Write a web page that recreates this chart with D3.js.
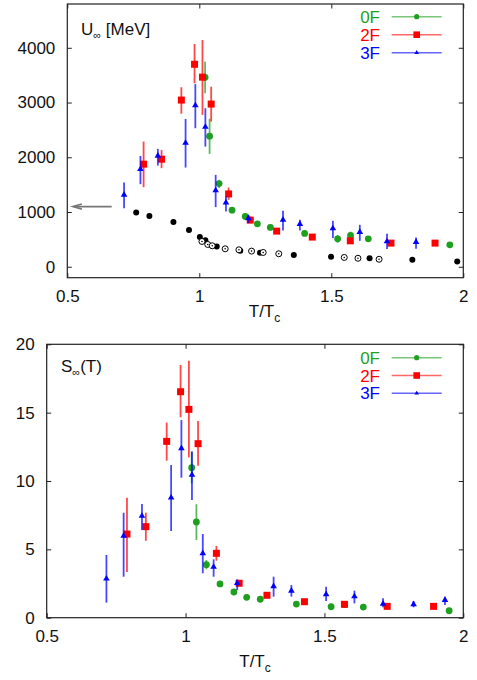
<!DOCTYPE html>
<html><head><meta charset="utf-8">
<script src="https://cdn.jsdelivr.net/npm/d3@7/dist/d3.min.js"></script>
<style>
html,body{margin:0;padding:0;background:#fff;}
svg text{font-family:"Liberation Sans",Arial,Helvetica,sans-serif;}
</style>
</head><body>
<svg id="c" width="477" height="680"></svg>
<script>
// ---------- DATA ----------
const seriesNames = ["0F", "2F", "3F"];
const xTicks = [0.5, 1, 1.5, 2];
const uTicks = [0, 1000, 2000, 3000, 4000];
const sTicks = [0, 5, 10, 15, 20];

// 0F
const T0F = [1.022, 1.039, 1.075, 1.124, 1.174, 1.220, 1.269, 1.399, 1.524, 1.573, 1.640, 1.949];
const U0F = [3461, 2385, 1520, 1034, 918, 785, 718, 608, 511, 572, 511, 401];
const U0F_lo = [3170, 2062, 1440, 1034, 918, 785, 718, 608, 440, 510, 511, 401];
const U0F_hi = [3746, 2705, 1590, 1034, 918, 785, 718, 608, 580, 640, 511, 401];
const S0F = [10.97, 7.0, 3.88, 2.47, 1.88, 1.49, 1.35, 1.0, 0.8, 0.95, 0.78, 0.51];
const S0F_lo = [9.83, 5.68, 3.54, 2.47, 1.88, 1.49, 1.35, 1.0, 0.8, 0.95, 0.78, 0.51];
const S0F_hi = [12.15, 8.3, 4.22, 2.47, 1.88, 1.49, 1.35, 1.0, 0.8, 0.95, 0.78, 0.51];

// 2F
const T2F = [0.789, 0.857, 0.932, 0.982, 1.012, 1.045, 1.111, 1.193, 1.293, 1.428, 1.572, 1.726, 1.893];
const U2F = [1874, 1965, 3045, 3699, 3464, 2972, 1330, 852, 651, 542, 474, 432, 432];
const U2F_lo = [1454, 1801, 2795, 3352, 2774, 2651, 1223, 800, 651, 542, 474, 432, 432];
const U2F_hi = [2287, 2135, 3279, 4069, 4142, 3290, 1447, 920, 651, 542, 474, 432, 432];
const S2F = [6.12, 6.66, 12.9, 16.53, 15.24, 12.73, 4.71, 2.52, 1.64, 1.17, 0.98, 0.83, 0.83];
const S2F_lo = [3.34, 5.63, 11.49, 14.66, 11.73, 11.12, 4.17, 2.52, 1.64, 1.17, 0.98, 0.83, 0.83];
const S2F_hi = [8.78, 7.68, 14.27, 18.49, 18.8, 14.39, 5.25, 2.52, 1.64, 1.17, 0.98, 0.83, 0.83];

// 3F
const T3F = [0.715, 0.777, 0.843, 0.948, 0.985, 1.023, 1.062, 1.101, 1.186, 1.317, 1.381, 1.506, 1.608, 1.711, 1.821, 1.934];
const U3F = [1314, 1783, 2026, 2262, 2946, 2555, 1393, 1173, 885, 858, 779, 699, 633, 462, 451, null];
const U3F_lo = [1071, 1509, 1849, 1812, 2531, 2195, 1089, 1009, 797, 662, 662, 523, 474, 323, 328, null];
const U3F_hi = [1538, 2025, 2153, 2700, 3337, 2896, 1679, 1283, 949, 1022, 858, 839, 766, 602, 535, null];
const S3F = [2.85, 5.98, 7.44, 8.78, 12.39, 10.44, 4.71, 3.71, 2.52, 2.3, 1.97, 1.71, 1.56, 1.02, 0.98, 1.29];
const S3F_lo = [1.10, 3.0, 6.42, 6.34, 10.24, 8.61, 3.25, 3.0, 2.03, 1.54, 1.54, 1.22, 1.05, 0.76, 0.76, 0.93];
const S3F_hi = [4.59, 7.68, 8.32, 11.17, 14.46, 12.15, 6.12, 4.27, 2.8, 3.0, 2.39, 2.27, 1.98, 1.42, 1.22, 1.54];

// reference (black) points in upper panel
const Tfilled = [0.761, 0.811, 0.902, 0.961, 1.002, 1.023, 1.066, 1.155, 1.230, 1.358, 1.499, 1.645, 1.807, 1.977];
const Ufilled = [991, 925, 816, 672, 542, 482, 368, 292, 255, 213, 182, 155, 128, 97];
const Topen = [1.010, 1.032, 1.049, 1.098, 1.150, 1.198, 1.242, 1.301, 1.549, 1.601, 1.681];
const Uopen = [462, 407, 383, 328, 310, 286, 261, 237, 170, 155, 137];

// arrow annotation (T from, T to, U)
const arrowT = [0.668, 0.521];
const arrowU = 1100;

// ---------- DRAW ----------
const colors = {"0F": "#1f9f1f", "2F": "#ff0000", "3F": "#0000ff"};
const svg = d3.select("#c");
const FONT = 17;

function triPath(s) {
  const h = s * 0.85;
  return `M0,${-h*2/3}L${s/2},${h/3}L${-s/2},${h/3}Z`;
}
function marker(g, name, x, y, big) {
  const c = colors[name];
  if (name === "0F") {
    g.append("circle").attr("cx", x).attr("cy", y).attr("r", big ? 3.4 : 2.6).attr("fill", c);
  } else if (name === "2F") {
    const s = big ? 7 : 6.6;
    g.append("rect").attr("x", x - s/2).attr("y", y - s/2).attr("width", s).attr("height", s).attr("fill", c);
  } else {
    g.append("path").attr("d", triPath(big ? 6.6 : 4.6)).attr("transform", `translate(${x},${y})`).attr("fill", c);
  }
}

function panel(opt) {
  const {left, right, top, bottom, yDomain, yTicks, series, title, legendY, extra} = opt;
  const x = d3.scaleLinear().domain([0.5, 2]).range([left, right]);
  const y = d3.scaleLinear().domain(yDomain).range([bottom, top]);
  const g = svg.append("g");

  // axes
  const ax = (a, tr, labels) => {
    const gg = g.append("g").attr("transform", tr).call(a);
    gg.select(".domain").remove();
    gg.selectAll(".tick line").attr("stroke", "#222").attr("stroke-width", 1);
    gg.selectAll("text").attr("font-size", FONT).attr("fill", "#111")
      .attr("font-family", '"Liberation Sans",Arial,Helvetica,sans-serif');
    if (!labels) gg.selectAll("text").remove();
    return gg;
  };
  ax(d3.axisBottom(x).tickValues(xTicks).tickFormat(d3.format("")).tickSize(-4.5).tickPadding(12), `translate(0,${bottom})`, true);
  ax(d3.axisTop(x).tickValues(xTicks).tickSize(-4.5), `translate(0,${top})`, false);
  ax(d3.axisLeft(y).tickValues(yTicks).tickFormat(d3.format("")).tickSize(-4.5).tickPadding(12), `translate(${left},0)`, true);
  ax(d3.axisRight(y).tickValues(yTicks).tickSize(-4.5), `translate(${right},0)`, false);

  if (extra) extra(g, x, y);

  // series
  series.forEach(s => {
    const eg = g.append("g");
    s.T.forEach((t, i) => {
      if (s.v[i] == null) return;
      if (s.hi[i] - s.lo[i] > 0) {
        eg.append("line").attr("x1", x(t)).attr("x2", x(t)).attr("y1", y(s.lo[i])).attr("y2", y(s.hi[i]))
          .attr("stroke", colors[s.name]).attr("stroke-width", 1.8).attr("stroke-opacity", 0.72);
      }
    });
    s.T.forEach((t, i) => {
      if (s.v[i] == null) return;
      marker(eg, s.name, x(t), y(s.v[i]), true);
    });
  });

  // frame
  g.append("rect").attr("x", left).attr("y", top).attr("width", right - left).attr("height", bottom - top)
    .attr("fill", "none").attr("stroke", "#222").attr("stroke-width", 1.2);

  // legend
  seriesNames.forEach((n, i) => {
    const ly = legendY[i];
    g.append("text").attr("x", 380).attr("y", ly).attr("dy", "0.36em").attr("text-anchor", "end")
      .attr("font-size", FONT).attr("fill", colors[n]).text(n);
    g.append("line").attr("x1", 391.7).attr("x2", 441.7).attr("y1", ly).attr("y2", ly)
      .attr("stroke", colors[n]).attr("stroke-width", 1.6).attr("stroke-opacity", 0.6);
    marker(g, n, 416.7, ly, false);
  });

  // title
  const tt = g.append("text").attr("x", title.x).attr("y", title.y).attr("font-size", FONT).attr("fill", "#111");
  tt.append("tspan").text(title.main);
  tt.append("tspan").attr("font-size", 11).attr("dy", 4).text("∞");
  tt.append("tspan").attr("dy", -4).text(title.rest);

  // x label
  const xl = g.append("text").attr("x", opt.xlab.x).attr("y", opt.xlab.y).attr("font-size", FONT)
    .attr("text-anchor", "middle").attr("fill", "#111");
  xl.append("tspan").text("T/T");
  xl.append("tspan").attr("font-size", 12).attr("dy", 5).text("c");
}

panel({
  left: 67.3, right: 463.3, top: 4, bottom: 277.7,
  yDomain: [-200, 4800], yTicks: uTicks,
  series: [
    {name: "0F", T: T0F, v: U0F, lo: U0F_lo, hi: U0F_hi},
    {name: "2F", T: T2F, v: U2F, lo: U2F_lo, hi: U2F_hi},
    {name: "3F", T: T3F, v: U3F, lo: U3F_lo, hi: U3F_hi}
  ],
  title: {x: 81, y: 35, main: "U", rest: " [MeV]"},
  legendY: [16.7, 34.7, 52.7],
  xlab: {x: 264.5, y: 317.3},
  extra: (g, x, y) => {
    // arrow
    const ay = y(arrowU);
    const x0 = x(arrowT[0]), x1 = x(arrowT[1]);
    g.append("line").attr("x1", x0).attr("x2", x1 + 1).attr("y1", ay).attr("y2", ay)
      .attr("stroke", "#777").attr("stroke-width", 1.8);
    g.append("path").attr("d", `M${x1 + 9},${ay - 2.6}L${x1},${ay}L${x1 + 9},${ay + 2.6}`)
      .attr("fill", "none").attr("stroke", "#777").attr("stroke-width", 1.6);
    // filled black
    Tfilled.forEach((t, i) => {
      g.append("circle").attr("cx", x(t)).attr("cy", y(Ufilled[i])).attr("r", 3).attr("fill", "#000");
    });
    Topen.forEach((t, i) => {
      g.append("circle").attr("cx", x(t)).attr("cy", y(Uopen[i])).attr("r", 3).attr("fill", "#fff")
        .attr("stroke", "#000").attr("stroke-width", 1);
      g.append("circle").attr("cx", x(t)).attr("cy", y(Uopen[i])).attr("r", 0.8).attr("fill", "#000");
    });
  }
});

panel({
  left: 46.7, right: 463.3, top: 344.3, bottom: 617.7,
  yDomain: [0, 20], yTicks: sTicks,
  series: [
    {name: "0F", T: T0F, v: S0F, lo: S0F_lo, hi: S0F_hi},
    {name: "2F", T: T2F, v: S2F, lo: S2F_lo, hi: S2F_hi},
    {name: "3F", T: T3F, v: S3F, lo: S3F_lo, hi: S3F_hi}
  ],
  title: {x: 61, y: 371.7, main: "S", rest: "(T)"},
  legendY: [357.7, 375.5, 393.3],
  xlab: {x: 255, y: 666.7}
});
</script>
</body></html>
